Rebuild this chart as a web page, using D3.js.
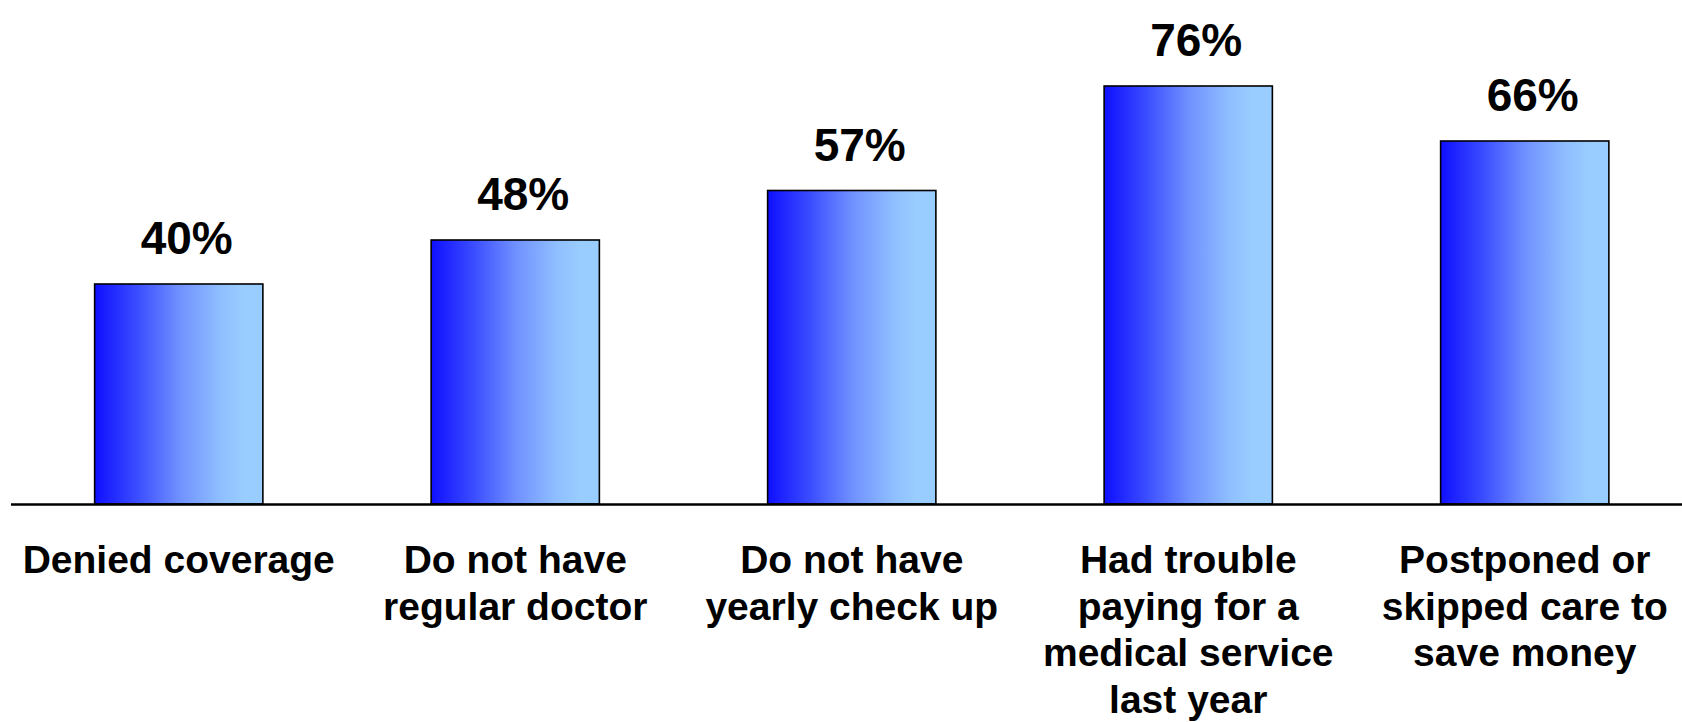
<!DOCTYPE html>
<html>
<head>
<meta charset="utf-8">
<script src="https://cdn.jsdelivr.net/npm/d3@7/dist/d3.min.js"></script>
<style>
  html, body { margin: 0; padding: 0; background: #fff; }
  svg { display: block; }
  text { font-family: "Liberation Sans", Arial, Helvetica, sans-serif; font-weight: bold; fill: #000; }
</style>
</head>
<body>
<svg id="chart" width="1682" height="722"></svg>
<script>
const categories = [
  "Denied coverage",
  "Do not have\nregular doctor",
  "Do not have\nyearly check up",
  "Had trouble\npaying for a\nmedical service\nlast year",
  "Postponed or\nskipped care to\nsave money"
];
const values = [40, 48, 57, 76, 66];
const valueLabels = ["40%", "48%", "57%", "76%", "66%"];

const W = 1682, H = 722;
const svg = d3.select("#chart");

const x = d3.scaleBand().domain(categories).range([10.5, 1693]).paddingInner(0.5).paddingOuter(0.25);
const y = d3.scaleLinear().domain([0, 80]).range([504, 64]);

const defs = svg.append("defs");
const grad = defs.append("linearGradient").attr("id", "barGrad")
  .attr("x1", "0%").attr("x2", "100%").attr("y1", "0%").attr("y2", "0%");
[["0%", "#0f0fff"], ["25%", "#3a4cff"], ["50%", "#6f90ff"], ["75%", "#90bfff"], ["88%", "#99ccff"], ["100%", "#99ccff"]]
  .forEach(([o, c]) => grad.append("stop").attr("offset", o).attr("stop-color", c));

const data = categories.map((c, i) => ({ c, v: values[i], label: valueLabels[i] }));

svg.append("g").selectAll("rect").data(data).join("rect")
  .attr("x", d => x(d.c))
  .attr("y", d => y(d.v))
  .attr("width", x.bandwidth())
  .attr("height", d => y(0) - y(d.v))
  .attr("fill", "url(#barGrad)")
  .attr("stroke", "#000")
  .attr("stroke-width", 1.6);

// baseline axis
const axis = svg.append("g").attr("transform", `translate(0,${y(0)})`)
  .call(d3.axisBottom(x).tickSize(0).tickFormat(""));
axis.select(".domain").attr("stroke", "#000").attr("stroke-width", 2.5);

// value labels
svg.append("g").selectAll("text").data(data).join("text")
  .attr("x", d => x(d.c) + x.bandwidth() / 2 + 8)
  .attr("y", d => y(d.v) - 30)
  .attr("text-anchor", "middle")
  .style("font-size", "46px")
  .text(d => d.label);

// category labels
const cat = svg.append("g").selectAll("text").data(data).join("text")
  .attr("x", d => x(d.c) + x.bandwidth() / 2)
  .attr("y", 573)
  .attr("text-anchor", "middle")
  .style("font-size", "39px");
cat.each(function(d) {
  const t = d3.select(this);
  d.c.split("\n").forEach((line, i) => {
    t.append("tspan").attr("x", x(d.c) + x.bandwidth() / 2).attr("dy", i === 0 ? 0 : 46.5).text(line);
  });
});
</script>
</body>
</html>
